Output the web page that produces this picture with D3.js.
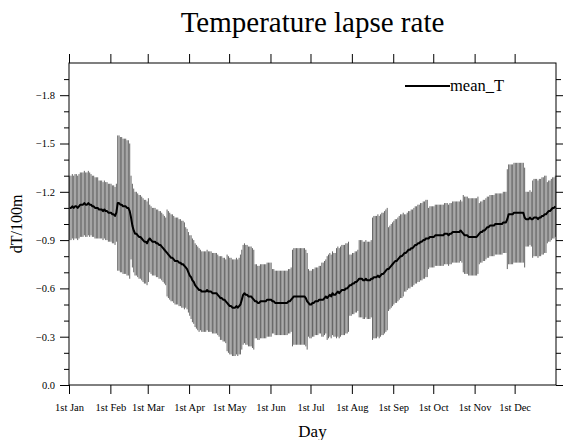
<!DOCTYPE html>
<html>
<head>
<meta charset="utf-8">
<script src="https://cdn.jsdelivr.net/npm/d3@7/dist/d3.min.js"></script>
<style>
  body { margin: 0; background: #fff; }
  svg { display: block; }
  text { font-family: "Liberation Serif", "DejaVu Serif", serif; fill: #000; }
</style>
</head>
<body>
<svg id="chart" width="563" height="440"></svg>
<script>
// Daily mean lapse rate (dT/100m), day 0 = 1st Jan
const meanT = [
-1.10,-1.10,-1.11,-1.10,-1.11,-1.11,-1.10,-1.11,-1.12,-1.12,
-1.12,-1.13,-1.12,-1.12,-1.13,-1.12,-1.12,-1.11,-1.11,-1.10,
-1.10,-1.10,-1.09,-1.09,-1.09,-1.08,-1.09,-1.08,-1.08,-1.07,
-1.07,-1.07,-1.06,-1.06,-1.05,-1.07,-1.13,-1.13,-1.12,-1.12,
-1.11,-1.11,-1.11,-1.10,-1.10,-1.08,-1.04,-0.99,-0.96,-0.94,
-0.94,-0.93,-0.92,-0.92,-0.91,-0.90,-0.89,-0.89,-0.88,-0.90,
-0.91,-0.90,-0.89,-0.89,-0.89,-0.88,-0.88,-0.87,-0.87,-0.86,
-0.85,-0.84,-0.83,-0.82,-0.81,-0.80,-0.79,-0.79,-0.78,-0.77,
-0.77,-0.77,-0.76,-0.76,-0.75,-0.75,-0.74,-0.73,-0.72,-0.70,
-0.68,-0.67,-0.65,-0.64,-0.62,-0.61,-0.60,-0.59,-0.59,-0.58,
-0.58,-0.58,-0.58,-0.59,-0.58,-0.58,-0.58,-0.57,-0.57,-0.57,
-0.57,-0.56,-0.55,-0.54,-0.54,-0.53,-0.53,-0.52,-0.51,-0.50,
-0.49,-0.49,-0.48,-0.48,-0.48,-0.49,-0.48,-0.49,-0.50,-0.53,
-0.56,-0.57,-0.56,-0.56,-0.55,-0.55,-0.55,-0.54,-0.53,-0.52,
-0.52,-0.51,-0.51,-0.52,-0.52,-0.52,-0.52,-0.52,-0.53,-0.53,
-0.53,-0.53,-0.52,-0.52,-0.51,-0.51,-0.51,-0.51,-0.51,-0.51,
-0.51,-0.51,-0.51,-0.51,-0.52,-0.52,-0.53,-0.54,-0.55,-0.55,
-0.55,-0.55,-0.55,-0.55,-0.55,-0.55,-0.55,-0.54,-0.52,-0.51,
-0.50,-0.50,-0.51,-0.51,-0.52,-0.52,-0.52,-0.53,-0.53,-0.53,
-0.53,-0.54,-0.55,-0.54,-0.55,-0.56,-0.55,-0.57,-0.56,-0.56,
-0.57,-0.58,-0.57,-0.58,-0.59,-0.59,-0.59,-0.60,-0.60,-0.61,
-0.62,-0.62,-0.63,-0.63,-0.64,-0.64,-0.65,-0.66,-0.66,-0.66,
-0.65,-0.65,-0.66,-0.65,-0.65,-0.65,-0.66,-0.66,-0.67,-0.67,
-0.67,-0.68,-0.67,-0.68,-0.69,-0.69,-0.70,-0.71,-0.72,-0.72,
-0.73,-0.74,-0.75,-0.76,-0.77,-0.77,-0.78,-0.79,-0.80,-0.80,
-0.81,-0.82,-0.82,-0.83,-0.84,-0.84,-0.85,-0.85,-0.86,-0.87,
-0.87,-0.88,-0.88,-0.89,-0.89,-0.90,-0.90,-0.91,-0.91,-0.91,
-0.92,-0.92,-0.92,-0.92,-0.93,-0.93,-0.93,-0.93,-0.93,-0.93,
-0.93,-0.94,-0.94,-0.94,-0.93,-0.94,-0.94,-0.95,-0.95,-0.95,
-0.95,-0.95,-0.95,-0.96,-0.95,-0.94,-0.93,-0.93,-0.93,-0.92,
-0.92,-0.92,-0.92,-0.92,-0.92,-0.92,-0.93,-0.94,-0.95,-0.95,
-0.96,-0.96,-0.97,-0.98,-0.98,-0.99,-0.99,-0.99,-0.99,-1.00,
-1.00,-1.00,-1.00,-1.00,-1.00,-1.01,-1.01,-1.01,-1.03,-1.06,
-1.06,-1.06,-1.06,-1.07,-1.07,-1.07,-1.07,-1.07,-1.07,-1.07,
-1.07,-1.04,-1.03,-1.03,-1.03,-1.04,-1.03,-1.03,-1.04,-1.04,
-1.04,-1.03,-1.04,-1.04,-1.05,-1.05,-1.06,-1.06,-1.07,-1.08,
-1.08,-1.09,-1.10,-1.10,-1.11
];

// Daily standard deviation (half-length of the error bars)
const sdT = [
0.20,0.20,0.20,0.20,0.20,0.20,0.20,0.20,0.20,0.20,
0.20,0.20,0.20,0.20,0.20,0.20,0.19,0.19,0.19,0.19,
0.19,0.19,0.18,0.18,0.18,0.18,0.18,0.18,0.18,0.18,
0.18,0.18,0.18,0.18,0.18,0.18,0.42,0.42,0.42,0.42,
0.42,0.42,0.42,0.42,0.42,0.42,0.26,0.26,0.26,0.26,
0.26,0.26,0.26,0.26,0.26,0.26,0.26,0.26,0.26,0.26,
0.21,0.21,0.21,0.21,0.21,0.21,0.21,0.21,0.21,0.21,
0.21,0.21,0.21,0.27,0.27,0.27,0.27,0.27,0.27,0.27,
0.27,0.27,0.27,0.27,0.27,0.27,0.27,0.25,0.25,0.25,
0.25,0.26,0.26,0.26,0.26,0.26,0.26,0.26,0.25,0.25,
0.25,0.25,0.25,0.25,0.25,0.25,0.25,0.25,0.25,0.25,
0.25,0.25,0.25,0.26,0.26,0.26,0.26,0.26,0.30,0.30,
0.30,0.30,0.30,0.30,0.30,0.30,0.30,0.30,0.31,0.31,
0.31,0.31,0.31,0.31,0.31,0.31,0.31,0.31,0.31,0.23,
0.23,0.23,0.23,0.23,0.23,0.23,0.23,0.23,0.23,0.23,
0.23,0.23,0.20,0.20,0.20,0.20,0.20,0.20,0.20,0.20,
0.20,0.20,0.20,0.20,0.20,0.20,0.20,0.30,0.30,0.30,
0.30,0.30,0.30,0.30,0.30,0.30,0.30,0.30,0.30,0.21,
0.21,0.21,0.21,0.21,0.21,0.21,0.21,0.21,0.21,0.23,
0.23,0.23,0.23,0.26,0.26,0.26,0.26,0.26,0.26,0.26,
0.28,0.28,0.28,0.28,0.28,0.28,0.28,0.28,0.28,0.28,
0.19,0.19,0.19,0.19,0.19,0.19,0.19,0.24,0.24,0.24,
0.24,0.24,0.24,0.24,0.24,0.24,0.24,0.38,0.38,0.38,
0.38,0.38,0.38,0.38,0.38,0.38,0.38,0.38,0.38,0.26,
0.26,0.26,0.26,0.26,0.26,0.26,0.26,0.26,0.26,0.26,
0.26,0.24,0.24,0.24,0.24,0.24,0.24,0.24,0.24,0.24,
0.24,0.24,0.24,0.24,0.24,0.24,0.24,0.24,0.24,0.19,
0.19,0.19,0.19,0.19,0.19,0.19,0.19,0.19,0.19,0.19,
0.19,0.19,0.19,0.19,0.19,0.19,0.19,0.19,0.19,0.19,
0.19,0.19,0.19,0.19,0.19,0.24,0.24,0.24,0.24,0.24,
0.24,0.24,0.24,0.24,0.24,0.24,0.24,0.19,0.19,0.19,
0.19,0.19,0.19,0.19,0.19,0.19,0.19,0.19,0.19,0.19,
0.19,0.19,0.19,0.19,0.19,0.19,0.19,0.19,0.31,0.31,
0.31,0.31,0.31,0.31,0.31,0.31,0.31,0.31,0.31,0.31,
0.31,0.31,0.17,0.17,0.17,0.17,0.17,0.24,0.24,0.24,
0.24,0.24,0.24,0.24,0.24,0.24,0.24,0.24,0.19,0.19,
0.19,0.19,0.19,0.19,0.19
];

const monthLabels = ["1st Jan","1st Feb","1st Mar","1st Apr","1st May","1st Jun",
                     "1st Jul","1st Aug","1st Sep","1st Oct","1st Nov","1st Dec"];
const monthStartDays = [0,31,59,90,120,151,181,212,243,273,304,334];
const yMajorTicks = [0,-0.3,-0.6,-0.9,-1.2,-1.5,-1.8];
const yMinorTicks = [-0.1,-0.2,-0.4,-0.5,-0.7,-0.8,-1.0,-1.1,-1.3,-1.4,-1.6,-1.7,-1.9];

const svg = d3.select("#chart");
const L = 69, R = 556, T = 63, B = 385;

const x = d3.scaleLinear().domain([0, 365]).range([L, R]);
const y = d3.scaleLinear().domain([0, -2.0]).range([B, T]);

const data = meanT.map((m, i) => ({ day: i, mean: m, sd: sdT[i] }));

// error bars
svg.append("g")
  .selectAll("line")
  .data(data)
  .join("line")
  .attr("x1", d => x(d.day + 0.5))
  .attr("x2", d => x(d.day + 0.5))
  .attr("y1", d => y(d.mean - d.sd))
  .attr("y2", d => y(d.mean + d.sd))
  .attr("stroke", "#666")
  .attr("stroke-width", 1);

// mean line
svg.append("path")
  .datum(data)
  .attr("fill", "none")
  .attr("stroke", "#000")
  .attr("stroke-width", 2)
  .attr("stroke-linejoin", "round")
  .attr("d", d3.line().x(d => x(d.day + 0.5)).y(d => y(d.mean)));

// axes
const fmt = d3.format(".1f");
const axL = d3.axisLeft(y).tickValues(yMajorTicks).tickFormat(fmt).tickSize(9).tickPadding(5);
const axLm = d3.axisLeft(y).tickValues(yMinorTicks).tickFormat("").tickSize(5);
const axR = d3.axisRight(y).tickValues(yMajorTicks).tickFormat("").tickSize(9);
const axRm = d3.axisRight(y).tickValues(yMinorTicks).tickFormat("").tickSize(5);
const axB = d3.axisBottom(x).tickValues(monthStartDays).tickFormat((d, i) => monthLabels[i]).tickSize(9).tickPadding(10);
const axT = d3.axisTop(x).tickValues(monthStartDays).tickFormat("").tickSize(9);

function style(g) {
  g.select(".domain").remove();
  g.selectAll(".tick line").attr("stroke", "#000");
  g.selectAll("text").attr("font-family", "Liberation Serif, serif").attr("font-size", 10.5).attr("fill", "#000");
}
svg.append("g").attr("transform", `translate(${L},0)`).call(axL).call(style);
svg.append("g").attr("transform", `translate(${L},0)`).call(axLm).call(style);
svg.append("g").attr("transform", `translate(${R},0)`).call(axR).call(style);
svg.append("g").attr("transform", `translate(${R},0)`).call(axRm).call(style);
svg.append("g").attr("transform", `translate(0,${B})`).call(axB).call(style);
svg.append("g").attr("transform", `translate(0,${T})`).call(axT).call(style);

// frame
svg.append("rect")
  .attr("x", L).attr("y", T).attr("width", R - L).attr("height", B - T)
  .attr("fill", "none").attr("stroke", "#000").attr("stroke-width", 1);

// title and axis titles
svg.append("text").attr("x", (L + R) / 2).attr("y", 32).attr("text-anchor", "middle")
  .attr("font-size", 29).text("Temperature lapse rate");
svg.append("text").attr("x", (L + R) / 2).attr("y", 437).attr("text-anchor", "middle")
  .attr("font-size", 17).text("Day");
svg.append("text").attr("transform", `translate(22,${(T + B) / 2}) rotate(-90)`)
  .attr("text-anchor", "middle").attr("font-size", 16).text("dT/100m");

// legend
svg.append("line").attr("x1", 405).attr("x2", 450).attr("y1", 86).attr("y2", 86)
  .attr("stroke", "#000").attr("stroke-width", 2);
svg.append("text").attr("x", 450).attr("y", 91).attr("font-size", 16.5).text("mean_T");
</script>
</body>
</html>
